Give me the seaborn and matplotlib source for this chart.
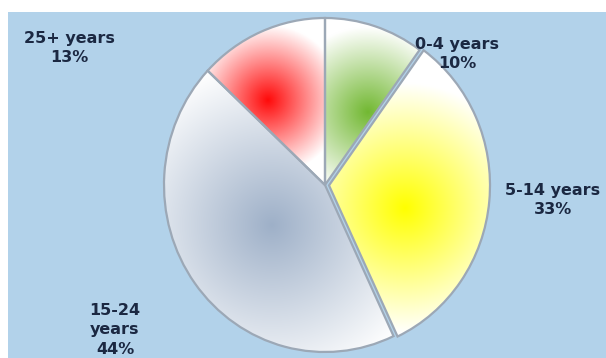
import numpy as np
import matplotlib
matplotlib.use("Agg")
import matplotlib.pyplot as plt
import seaborn as sns
from matplotlib.colors import to_rgb
from matplotlib.patches import Rectangle

# ---- data ----
categories = ["0-4 years", "5-14 years", "15-24 years", "25+ years"]
shares = [10, 33, 44, 13]
label_texts = ["0-4 years\n10%", "5-14 years\n33%", "15-24\nyears\n44%", "25+ years\n13%"]

# ---- style ----
sns.set_theme(style="white")
plt.rcParams['font.family'] = ['DejaVu Sans']
slice_colors = ["#72b832", "#ffff00", "#9eb0c8", "#ff0a0a"]
bg_blue = "#b2d2ea"
text_col = "#1b2842"

W, H = 606, 358
CX, CY, RX, RY = 325, 185, 161, 167

def px(x, y):
    return (x - CX) / RX, (CY - y) / RY

fig = plt.figure(figsize=(W / 100, H / 100), dpi=100, facecolor="white")
ax = fig.add_axes([0, 0, 1, 1])
x0, y1 = px(0, 0)
x1, y0 = px(W, H)
ax.set_xlim(x0, x1)
ax.set_ylim(y0, y1)
ax.set_axis_off()

# blue panel
bx, by = px(8, H)
bx2, by2 = px(W, 12)
ax.add_patch(Rectangle((bx, by), bx2 - bx, by2 - by, facecolor=bg_blue,
                       edgecolor="none", zorder=0))

wedges, _ = ax.pie(shares, startangle=90, counterclock=False,
                   explode=[0, 0.025, 0, 0], frame=True,
                   wedgeprops=dict(edgecolor="#9ca8b6", linewidth=1.6))
ax.set_aspect("auto")
ax.set_xlim(x0, x1)
ax.set_ylim(y0, y1)

# radial gradient fill per slice (clipped to wedge)
grad_centers = [(368, 112), (405, 208), (272, 225), (268, 100)]
falloffs = [85, 125, 165, 75]
gammas = [1.0, 1.0, 1.0, 1.0]
uu, vv = np.meshgrid(np.arange(W) + 0.5, np.arange(H) + 0.5)
for w, col, (gx, gy), fo, gm in zip(wedges, slice_colors, grad_centers, falloffs, gammas):
    d = np.hypot(uu - gx, vv - gy)
    t = np.clip(d / fo, 0, 1) ** gm
    c = np.array(to_rgb(col))
    img = c[None, None, :] * (1 - t[..., None]) + np.ones(3)[None, None, :] * t[..., None]
    im = ax.imshow(img, extent=(x0, x1, y0, y1), origin="upper",
                   aspect="auto", zorder=w.get_zorder() + 0.1, interpolation="bilinear")
    im.set_clip_path(w)
    w.set_facecolor("none")
    w.set_zorder(w.get_zorder() + 0.2)

ax.set_xlim(x0, x1)
ax.set_ylim(y0, y1)

# labels
label_pos = [(457, 54), (553, 200), (115, 330), (69, 48)]
for txt, (lx, ly) in zip(label_texts, label_pos):
    X, Y = px(lx, ly)
    ax.text(X, Y, txt, ha="center", va="center", fontsize=11.5, fontweight="bold",
            color=text_col, linespacing=1.38, zorder=5, clip_on=False)

fig.savefig("out.png", dpi=100, facecolor="white")
